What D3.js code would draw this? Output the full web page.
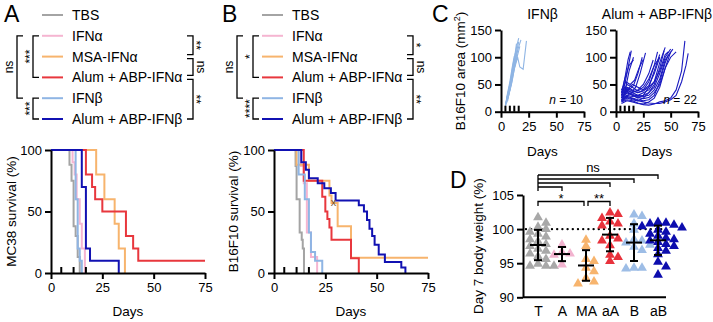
<!DOCTYPE html>
<html>
<head>
<meta charset="utf-8">
<script src="https://cdn.jsdelivr.net/npm/d3@7"></script>
<style>
  body { margin: 0; background: #fff; }
  svg { font-family: "Liberation Sans", Arial, sans-serif; }
  text { fill: #000; }
</style>
</head>
<body>
<svg id="fig" width="713" height="322"></svg>
<script>
// treatment groups (legend order) and their colours
const groups = ["TBS", "IFNα", "MSA-IFNα", "Alum + ABP-IFNα", "IFNβ", "Alum + ABP-IFNβ"];
const groupColors = ["#a4a4a4", "#f5b5d1", "#f7b46d", "#e8373d", "#8fb5e4", "#1111b2"];

// A: MC38 survival, [day, % alive]
const mc38TBS   = [[0,100],[9,88],[10,75],[11,38],[12,30],[13,13],[14,0]];
const mc38IFNa  = [[0,100],[10.5,90],[11.5,80],[12.5,60],[14,40],[15,20],[16.5,0]];
const mc38MSA   = [[0,100],[22,80],[26,60],[31,40],[33,20],[36,0]];
const mc38AlumA = [[0,100],[17,80],[20,70],[21.5,60],[25,50],[36.5,30],[40,20],[42.5,10],[75,10]];
const mc38IFNb  = [[0,100],[12,60],[13,20],[14,10],[15,0]];
const mc38AlumB = [[0,100],[15,70],[17,20],[19,10],[33,0]];

// B: B16F10 survival, [day, % alive]
const b16TBS   = [[0,100],[10.5,87],[11,60],[12.5,33],[13.5,27],[14,20],[14.6,0]];
const b16IFNa  = [[0,100],[13,87],[14.5,73],[16,33],[18,13],[21,0]];
const b16MSA   = [[0,100],[11,88],[17,75],[27,63],[28,57],[31,38],[37.5,12.5],[75,12.5]];
const b16AlumA = [[0,100],[14.5,75],[23.5,62],[25,50],[26,44],[27,37],[28,27],[37.5,12],[41.3,0]];
const b16IFNb  = [[0,100],[12,80],[15,60],[17,33],[18,17],[20,10],[23.5,0]];
const b16AlumB = [[0,100],[13.3,90],[15.5,84],[17,77],[21.3,73],[24.5,69],[27.7,65],[30,59],[41.3,55],[43.8,50],[45.3,43],[46.5,36],[47.8,30],[49,23],[51,15],[54,9],[62,4.5],[64,0]];
const b16Censored = [[29, 57]]; // MSA-IFNα censored mouse

const treatDays = [5, 11, 17];
const treatDaysC = [4, 8, 12, 16];

// significance between legend rows (indices into groups)
const leftPairs = [[1, 4], [1, 3], [4, 5]];
const rightPairs = [[1, 2], [2, 3], [3, 5]];
const sigA = { left: ["ns", "***", "***"], right: ["**", "ns", "**"] };
const sigB = { left: ["ns", "*", "****"], right: ["*", "ns", "**"] };

// C: individual B16F10 tumour areas (mm²), [day, area]
const ifnbGrowth = [
  [[4,12],[8,45],[11,80],[14,118],[16,135]],
  [[4,15],[7,38],[10,68],[13,100],[18,132]],
  [[5,20],[8,50],[11,88],[13,108]],
  [[5,18],[8,40],[12,85],[15,112]],
  [[4,10],[7,30],[10,55],[13,90],[15,105]],
  [[5,22],[9,60],[12,95],[14,125]],
  [[5,16],[9,48],[12,78],[15,100],[17,82],[20,78],[23,130]],
  [[4,14],[8,42],[11,72],[14,96],[17,120]],
  [[5,25],[8,55],[10,80],[12,102]],
  [[6,20],[9,52],[12,90],[14,110],[16,128]]
];
const alumIfnbGrowth = [
  [[5,25],[8,50],[11,80],[14,112]],
  [[5,30],[8,60],[11,95],[13,110]],
  [[6,20],[9,45],[12,75],[16,100]],
  [[5,35],[8,45],[12,40],[16,48],[20,70],[24,100]],
  [[6,28],[10,40],[14,35],[18,45],[22,70],[27,108]],
  [[5,40],[9,55],[13,50],[17,58],[21,80],[25,96]],
  [[5,20],[10,35],[15,30],[20,25],[25,30],[30,45],[35,75],[40,105]],
  [[5,30],[10,45],[15,40],[20,35],[25,40],[30,55],[35,85],[38,110]],
  [[6,25],[10,40],[15,35],[20,40],[25,50],[30,70],[34,95]],
  [[5,18],[10,25],[15,22],[20,20],[25,25],[30,35],[35,50],[40,80],[44,112]],
  [[5,22],[10,30],[15,28],[20,30],[25,35],[30,40],[35,55],[40,90],[45,118]],
  [[6,35],[10,50],[15,45],[20,38],[25,45],[30,60],[35,85],[40,100]],
  [[5,15],[10,20],[15,18],[20,15],[25,14],[30,18],[35,25],[40,45],[45,80],[50,110]],
  [[5,20],[10,28],[15,25],[20,22],[25,20],[30,22],[35,30],[40,55],[45,90],[48,105]],
  [[6,28],[10,35],[15,32],[20,28],[25,30],[30,35],[35,45],[40,70],[45,100],[50,115]],
  [[5,25],[10,40],[15,50],[20,45],[25,40],[30,48],[35,70],[40,100]],
  [[5,18],[10,22],[15,20],[20,16],[25,13],[30,12],[35,14],[40,18],[45,20],[50,25],[55,40],[60,75],[63,130]],
  [[5,22],[10,26],[15,24],[20,20],[25,18],[30,16],[35,15],[40,15],[45,18],[50,22],[55,30],[60,55],[64,85],[66,107]],
  [[5,30],[10,42],[15,38],[20,35],[25,38],[30,45],[35,55],[40,75],[45,105],[48,110]],
  [[6,20],[10,30],[15,35],[20,30],[25,28],[30,30],[35,40],[40,60],[45,95],[52,115]],
  [[5,35],[8,60],[12,85],[16,95]],
  [[5,25],[10,38],[15,30],[20,26],[25,24],[30,26],[35,35],[40,50],[45,80],[50,100],[55,110]]
];

// D: day 7 body weight (%)
const weightGroups = ["T", "A", "MA", "aA", "B", "aB"];
const weightT  = [101.7,100.9,100.3,100.0,99.6,99.3,98.9,98.5,98.2,97.8,97.5,97.1,96.8,96.4,96.0,95.6,94.9,94.6,94.6,94.6];
const weightA  = [97.7,96.6,96.4,96.2,94.8];
const weightMA = [98.4,97.5,95.6,95.3,94.3,93.8,92.8,92.3,92.0];
const weightaA = [102.4,102.2,101.6,101.1,100.8,100.5,99.0,98.6,98.3,97.6,96.2,95.9,95.3];
const weightB  = [102.1,101.9,100.8,99.9,98.5,98.3,98.0,97.7,97.4,96.9,94.3,94.3,94.2];
const weightaB = [101.0,100.9,100.8,100.6,100.4,100.2,99.9,99.6,99.3,99.0,98.7,98.5,98.3,98.1,97.8,97.5,97.2,96.8,96.3,95.2,94.5,93.3];
const weightColors = ["#a8a8a8", "#f2b3cf", "#f7b46d", "#e8323c", "#9dbde6", "#0d0dae"];
const nsVsT = ["aB", "B", "aA", "A"];
const dPairs = [["T", "MA", "*"], ["MA", "aA", "**"]];

const svg = d3.select("#fig");

function styleAxis(g) {
  g.attr("font-family", null).attr("font-size", null);
  g.select(".domain").attr("stroke", "#000").attr("stroke-width", 2);
  g.selectAll(".tick line").attr("stroke", "#000").attr("stroke-width", 2);
  g.selectAll(".tick text").attr("fill", "#000").style("font-size", "13px");
}

function panelLetter(t, x, y) {
  svg.append("text").attr("x", x).attr("y", y).style("font-size", "23px").text(t);
}

function legendPanel(dx, sig) {
  const rowY = d3.scalePoint().domain(d3.range(groups.length)).range([15, 119]);
  const g = svg.append("g").attr("transform", `translate(${dx},0)`);
  g.selectAll("line.key").data(groups).join("line")
    .attr("x1", 42).attr("x2", 63)
    .attr("y1", (d, i) => rowY(i)).attr("y2", (d, i) => rowY(i))
    .attr("stroke", (d, i) => groupColors[i]).attr("stroke-width", 2);
  g.selectAll("text.key").data(groups).join("text")
    .attr("x", 72).attr("y", (d, i) => rowY(i)).attr("dy", "0.36em")
    .style("font-size", "14px").text(d => d);

  leftPairs.forEach((p, k) => {
    const bx = k === 0 ? 17 : 33;
    const y1 = rowY(p[0]), y2 = rowY(p[1]);
    const lab = sig.left[k];
    g.append("path").attr("d", `M${bx + 6},${y1}H${bx}V${y2}H${bx + 6}`)
      .attr("fill", "none").attr("stroke", "#000").attr("stroke-width", 1.3);
    g.append("text")
      .attr("transform", `translate(${lab === "ns" ? bx - 4 : bx + 1},${(y1 + y2) / 2}) rotate(-90)`)
      .attr("text-anchor", "middle").style("font-size", "12px").text(lab);
  });

  rightPairs.forEach((p, k) => {
    const bx = 193;
    const y1 = rowY(p[0]) + (k > 0 ? 2 : 0);
    const y2 = rowY(p[1]) - (k < rightPairs.length - 1 ? 2 : 0);
    const lab = sig.right[k];
    g.append("path").attr("d", `M${bx - 6},${y1}H${bx}V${y2}H${bx - 6}`)
      .attr("fill", "none").attr("stroke", "#000").attr("stroke-width", 1.3);
    g.append("text")
      .attr("transform", `translate(${lab === "ns" ? bx + 4 : bx - 1},${(y1 + y2) / 2}) rotate(90)`)
      .attr("text-anchor", "middle").style("font-size", "12px").text(lab);
  });
}

function survivalPanel(xRange, curves, yLabel, labelX, censored) {
  const x = d3.scaleLinear().domain([0, 75]).range(xRange);
  const y = d3.scaleLinear().domain([0, 100]).range([273, 150]);
  const line = d3.line().x(d => x(d[0])).y(d => y(d[1])).curve(d3.curveStepAfter);

  svg.append("g").selectAll("path").data(curves).join("path")
    .attr("d", line).attr("fill", "none")
    .attr("stroke", (d, i) => groupColors[i]).attr("stroke-width", 2);

  svg.selectAll(null).data(censored).join("text")
    .attr("x", d => x(d[0])).attr("y", d => y(d[1])).attr("dy", "0.3em")
    .attr("text-anchor", "middle").style("fill", "#7a5530")
    .style("font-size", "11px").text("x");

  svg.append("g").attr("transform", `translate(0,${y(0)})`)
    .call(d3.axisBottom(x).tickValues([0, 25, 50, 75]).tickSize(6).tickSizeOuter(0).tickPadding(4))
    .call(styleAxis);
  svg.append("g").attr("transform", `translate(${x(0)},0)`)
    .call(d3.axisLeft(y).tickValues([0, 50, 100]).tickSize(6).tickSizeOuter(0).tickPadding(3))
    .call(styleAxis);

  svg.append("g").selectAll("line").data(treatDays).join("line")
    .attr("x1", d => x(d)).attr("x2", d => x(d))
    .attr("y1", y(0)).attr("y2", y(0) - 6)
    .attr("stroke", "#000").attr("stroke-width", 2);

  svg.append("text").attr("x", (xRange[0] + xRange[1]) / 2).attr("y", 316)
    .attr("text-anchor", "middle").style("font-size", "13.5px").text("Days");
  svg.append("text")
    .attr("transform", `translate(${labelX},${(y(0) + y(100)) / 2}) rotate(-90)`)
    .attr("text-anchor", "middle").style("font-size", "13.5px").text(yLabel);
}

function growthPanel(xRange, mice, color, title, n) {
  const x = d3.scaleLinear().domain([0, 75]).range(xRange);
  const y = d3.scaleLinear().domain([0, 150]).range([111.7, 30]);
  const line = d3.line().x(d => x(d[0])).y(d => y(d[1]));

  svg.append("g").selectAll("path").data(mice).join("path")
    .attr("d", line).attr("fill", "none")
    .attr("stroke", color).attr("stroke-width", 1.1);

  svg.append("g").attr("transform", `translate(0,${y(0)})`)
    .call(d3.axisBottom(x).tickValues([0, 25, 50, 75]).tickSize(6).tickSizeOuter(0).tickPadding(4))
    .call(styleAxis);
  svg.append("g").attr("transform", `translate(${x(0)},0)`)
    .call(d3.axisLeft(y).tickValues([0, 50, 100, 150]).tickSize(6).tickSizeOuter(0).tickPadding(3))
    .call(styleAxis);

  svg.append("g").selectAll("line").data(treatDaysC).join("line")
    .attr("x1", d => x(d)).attr("x2", d => x(d))
    .attr("y1", y(0)).attr("y2", y(0) - 6)
    .attr("stroke", "#000").attr("stroke-width", 2);

  const cx = (xRange[0] + xRange[1]) / 2;
  svg.append("text").attr("x", cx).attr("y", 19).attr("text-anchor", "middle")
    .style("font-size", "14px").text(title);
  svg.append("text").attr("x", cx).attr("y", 156).attr("text-anchor", "middle")
    .style("font-size", "13.5px").text("Days");
  const nt = svg.append("text").attr("x", xRange[1] - 1).attr("y", 104)
    .attr("text-anchor", "end").style("font-size", "12px");
  nt.append("tspan").style("font-style", "italic").text("n");
  nt.append("tspan").text(" = " + n);
}

// ---- A and B ----
panelLetter("A", 4, 22);
panelLetter("B", 222, 22);
legendPanel(0, sigA);
legendPanel(220, sigB);
survivalPanel([51, 205], [mc38TBS, mc38IFNa, mc38MSA, mc38AlumA, mc38IFNb, mc38AlumB],
  "MC38 survival (%)", 16, []);
survivalPanel([274, 428], [b16TBS, b16IFNa, b16MSA, b16AlumA, b16IFNb, b16AlumB],
  "B16F10 survival (%)", 238, b16Censored);

// ---- C ----
panelLetter("C", 432, 22);
growthPanel([501, 584], ifnbGrowth, groupColors[4], "IFNβ", ifnbGrowth.length);
growthPanel([616, 698], alumIfnbGrowth, "#1a1ac0", "Alum + ABP-IFNβ", alumIfnbGrowth.length);
const cLab = svg.append("text")
  .attr("transform", "translate(465,71) rotate(-90)")
  .attr("text-anchor", "middle").style("font-size", "13.5px");
cLab.append("tspan").text("B16F10 area (mm");
cLab.append("tspan").attr("baseline-shift", "super").style("font-size", "9px").text("2");
cLab.append("tspan").text(")");

// ---- D ----
panelLetter("D", 450, 188);
const yD = d3.scaleLinear().domain([90, 105]).range([297.3, 195]);
const xD = d3.scalePoint().domain(weightGroups).range([538, 658]);
const weights = [weightT, weightA, weightMA, weightaA, weightB, weightaB];

svg.append("line").attr("x1", 526).attr("x2", 665)
  .attr("y1", yD(100)).attr("y2", yD(100))
  .attr("stroke", "#000").attr("stroke-width", 2.4)
  .attr("stroke-linecap", "round").attr("stroke-dasharray", "0,5.2");

function swarm(values, cx) {
  const pts = values.map(v => ({ v, y: yD(v) })).sort((a, b) => a.y - b.y);
  const placed = [];
  pts.forEach(p => {
    for (let k = 0; k < 40; k++) {
      const px = cx + (k % 2 ? 1 : -1) * Math.ceil(k / 2) * 4;
      if (!placed.some(q => Math.abs(q.x - px) < 7 && Math.abs(q.y - p.y) < 5.5)) {
        p.x = px; placed.push(p); break;
      }
    }
  });
  return pts;
}

const tri = d3.symbol(d3.symbolTriangle).size(42);
weights.forEach((vals, i) => {
  const cx = xD(weightGroups[i]);
  svg.append("g").selectAll("path").data(swarm(vals, cx)).join("path")
    .attr("d", tri).attr("transform", d => `translate(${d.x},${d.y})`)
    .attr("fill", weightColors[i]);
  const m = d3.mean(vals), sd = d3.deviation(vals);
  const eb = svg.append("g").attr("stroke", "#000").attr("stroke-width", 2);
  eb.append("line").attr("x1", cx).attr("x2", cx).attr("y1", yD(m - sd)).attr("y2", yD(m + sd));
  eb.append("line").attr("x1", cx - 4).attr("x2", cx + 4).attr("y1", yD(m - sd)).attr("y2", yD(m - sd));
  eb.append("line").attr("x1", cx - 4).attr("x2", cx + 4).attr("y1", yD(m + sd)).attr("y2", yD(m + sd));
  eb.append("line").attr("x1", cx - 8).attr("x2", cx + 8).attr("y1", yD(m)).attr("y2", yD(m));
});

const dxAxis = svg.append("g").attr("transform", `translate(0,${yD(90)})`)
  .call(d3.axisBottom(xD).tickSize(0).tickPadding(9))
  .call(styleAxis);
dxAxis.select(".domain").attr("d", "M523,0H666");
dxAxis.selectAll(".tick text").style("font-size", "14px");
svg.append("g").attr("transform", "translate(523,0)")
  .call(d3.axisLeft(yD).tickValues([90, 95, 100, 105]).tickSize(6).tickSizeOuter(0).tickPadding(3))
  .call(styleAxis);
svg.append("text")
  .attr("transform", `translate(483,${(yD(90) + yD(105)) / 2}) rotate(-90)`)
  .attr("text-anchor", "middle").style("font-size", "13.5px").text("Day 7 body weight (%)");

// significance brackets in D
const bl = svg.append("g").attr("fill", "none").attr("stroke", "#000").attr("stroke-width", 1.3);
nsVsT.forEach((grp, k) => {
  const yy = 175 + k * 4;
  bl.append("path").attr("d", `M${xD("T")},${yy}H${xD(grp)}v4`);
});
bl.append("path").attr("d", `M${xD("T")},175V${175 + (nsVsT.length - 1) * 4 + 4}`);
svg.append("text").attr("x", 593).attr("y", 172).attr("text-anchor", "middle")
  .style("font-size", "13px").text("ns");
dPairs.forEach(([a, b, lab], k) => {
  const x1 = xD(a) + (k > 0 ? 2 : 0), x2 = xD(b) - (k < dPairs.length - 1 ? 2 : 0);
  bl.append("path").attr("d", `M${x1},206V201.5H${x2}V206`);
  svg.append("text").attr("x", (x1 + x2) / 2).attr("y", 203).attr("text-anchor", "middle")
    .style("font-size", "13px").text(lab);
});
</script>
</body>
</html>
